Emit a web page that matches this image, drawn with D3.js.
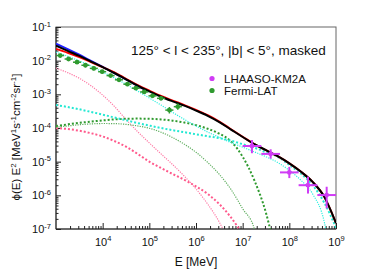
<!DOCTYPE html>
<html>
<head>
<meta charset="utf-8">
<script src="https://cdn.jsdelivr.net/npm/d3@7"></script>
<style>
	body { margin: 0; background: #fff; }
	svg { display: block; font-family: 'Liberation Sans', Arial, sans-serif; }
</style>
</head>
<body>
<div id="chart"></div>
<script>
// model curves, sampled on a common energy grid [MeV]
var energyGrid = [1e3, 1.78e3, 3.16e3, 5.62e3, 1e4, 1.78e4, 3.16e4, 5.62e4, 1e5, 1.78e5, 3.16e5, 5.62e5,
	1e6, 1.78e6, 3.16e6, 5.62e6, 1e7, 1.78e7, 3.16e7, 5.62e7, 1e8, 1.78e8, 3.16e8, 5.62e8, 1e9];

var totalModel = [0.028, 0.0195, 0.0138, 0.0094, 0.0064, 0.0043, 0.0028, 0.0018, 0.00122, 8.5e-4, 6.2e-4, 4.6e-4,
	3.3e-4, 2.3e-4, 1.5e-4, 9e-5, 5.4e-5, 3.3e-5, 2.2e-5, 1.45e-5, 8.9e-6, 5e-6, 2.5e-6, 9e-7, 1.5e-7];
var redModel = [0.0225, 0.0172, 0.0128, 0.0091, 0.0064, 0.0045, 0.0029, 0.00188, 0.00128, 8.9e-4, 6.5e-4, 4.8e-4,
	3.45e-4, 2.4e-4, 1.55e-4, 9.2e-5, 5.5e-5, 3.3e-5, 2.2e-5, 1.45e-5, 8.9e-6, 5e-6, 2.5e-6, 9e-7, 1.5e-7];
var blueModel = [0.032, 0.022, 0.015, 0.0098, 0.0065, 0.0043, 0.0028, 0.0018, 0.00122];
var cyanThin = [0.018, 0.0135, 0.0098, 0.0069, 0.0046, 0.0031, 0.002, 0.00125, 7.8e-4, 4.8e-4, 2.9e-4, 1.8e-4,
	1.15e-4, 7.6e-5, 5.3e-5, 3.7e-5, 2.7e-5, 1.95e-5, 1.4e-5, 9.5e-6, 5.5e-6, 2.8e-6, 1.1e-6, 1.6e-7, 1e-9];
var cyanThick = [4.8e-4, 4.2e-4, 3.6e-4, 3.0e-4, 2.5e-4, 2.05e-4, 1.7e-4, 1.4e-4, 1.18e-4, 1.0e-4, 8.6e-5, 7.5e-5,
	6.5e-5, 5.7e-5, 5.0e-5, 4.2e-5, 3.3e-5, 2.6e-5, 1.9e-5, 1.4e-5, 8e-6, 4.4e-6, 2.0e-6, 6e-7, 1.1e-7];
var greenThick = [1.15e-4, 1.28e-4, 1.42e-4, 1.55e-4, 1.68e-4, 1.8e-4, 1.88e-4, 1.9e-4, 1.88e-4, 1.8e-4, 1.65e-4, 1.45e-4,
	1.22e-4, 9.5e-5, 6.8e-5, 4.0e-5, 1.4e-5, 2.8e-6, 3e-7, 1e-8];
var greenThin = [1.05e-4, 1.15e-4, 1.25e-4, 1.32e-4, 1.36e-4, 1.35e-4, 1.28e-4, 1.15e-4, 9.8e-5, 7.5e-5, 5.2e-5, 3.3e-5,
	1.9e-5, 9.5e-6, 4.2e-6, 1.5e-6, 4e-7, 1e-7, 1e-9];
var pinkThin = [6.0e-3, 4.4e-3, 3.0e-3, 1.8e-3, 9.5e-4, 4.4e-4, 1.8e-4, 7.8e-5, 3.6e-5, 1.7e-5, 8.2e-6, 3.7e-6,
	1.55e-6, 5.5e-7, 1.6e-7, 3e-8];
var pinkThick = [1.0e-4, 9.3e-5, 8.3e-5, 7.0e-5, 5.6e-5, 4.1e-5, 2.8e-5, 1.7e-5, 1.0e-5, 6.5e-6, 4.3e-6, 2.9e-6,
	1.85e-6, 1.1e-6, 5.5e-7, 2.2e-7, 7e-8];

// Fermi-LAT points
var fermiE = [1230, 1860, 2820, 4270, 6460, 9770, 14800, 22400, 33900, 51300, 77600, 117000, 178000, 269000, 407000];
var fermiFlux = [0.0142, 0.0112, 0.009, 0.0073, 0.0059, 0.0047, 0.0036, 0.0027, 0.002, 0.00152, 0.00118, 9.0e-4, 7.6e-4, 3.4e-4, 4.3e-4];
var fermiLo = [0.0125, 0.0099, 0.0079, 0.0064, 0.0052, 0.0041, 0.0032, 0.0024, 0.00176, 0.00134, 0.00104, 7.9e-4, 6.7e-4, 2.7e-4, 3.5e-4];
var fermiHi = [0.016, 0.0127, 0.0102, 0.0082, 0.0067, 0.0053, 0.0041, 0.0031, 0.00226, 0.00172, 0.00133, 1.02e-3, 8.6e-4, 4.2e-4, 5.3e-4];
var fermiBinLo = [1010, 1530, 2310, 3500, 5300, 8000, 12100, 18300, 27800, 42000, 63600, 95900, 146000, 220000, 334000];
var fermiBinHi = [1500, 2270, 3440, 5210, 7880, 11900, 18000, 27300, 41400, 62600, 94700, 143000, 217000, 328000, 497000];

// LHAASO-KM2A points
var lhaasoE = [1.58e7, 3.98e7, 1e8, 2.51e8, 6.31e8];
var lhaasoFlux = [2.92e-5, 1.7e-5, 4.8e-6, 2.0e-6, 1.02e-6];
var lhaasoLo = [1.78e-5, 1.23e-5, 3.25e-6, 1.13e-6, 4.1e-7];
var lhaasoHi = [4.4e-5, 2.33e-5, 7.0e-6, 3.6e-6, 1.8e-6];
var lhaasoBinLo = [1e7, 2.51e7, 6.31e7, 1.58e8, 3.98e8];
var lhaasoBinHi = [2.51e7, 6.31e7, 1.58e8, 3.98e8, 1e9];

var xTickValues = [1e4, 1e5, 1e6, 1e7, 1e8, 1e9];
var xTickExp = ['4', '5', '6', '7', '8', '9'];
var yTickValues = [1e-1, 1e-2, 1e-3, 1e-4, 1e-5, 1e-6, 1e-7];
var yTickExp = ['-1', '-2', '-3', '-4', '-5', '-6', '-7'];

var regionLabel = '125\u00b0 < l < 235\u00b0, |b| < 5\u00b0, masked';
var legendNames = ['LHAASO-KM2A', 'Fermi-LAT'];

var options = {
	width: 374,
	height: 270,
	margin: {top: 27, right: 38, bottom: 41, left: 56}
};

var svg = d3.select('#chart')
	.append('svg')
	.attr('width', options.width)
	.attr('height', options.height);

var width = options.width - options.margin.left - options.margin.right;
var height = options.height - options.margin.top - options.margin.bottom;

var g = svg.append('g')
	.attr('transform', 'translate(' + options.margin.left + ',' + options.margin.top + ')');

var x = d3.scaleLog().domain([1e3, 1e9]).range([0, width]);
var y = d3.scaleLog().domain([1e-7, 1e-1]).range([height, 0]);

g.append('clipPath')
	.attr('id', 'plotClip')
	.append('rect')
	.attr('width', width)
	.attr('height', height);

g.append('rect')
	.attr('width', width)
	.attr('height', height)
	.attr('fill', 'none')
	.attr('stroke', '#666')
	.attr('stroke-width', 1);

// axes, ticks drawn inside the frame
function isDecade(v) {
	var l = Math.log10(v);
	return Math.abs(l - Math.round(l)) < 1e-6;
}
var minorX = x.ticks().filter(function(v) { return !isDecade(v); });
var minorY = y.ticks().filter(function(v) { return !isDecade(v); });

g.append('g')
	.attr('transform', 'translate(0,' + height + ')')
	.call(d3.axisBottom(x).tickValues(minorX).tickSize(-3).tickFormat(''))
	.call(function(s) { s.select('.domain').remove(); });

var xAxisG = g.append('g')
	.attr('transform', 'translate(0,' + height + ')')
	.call(d3.axisBottom(x).tickValues(xTickValues).tickSize(-6).tickPadding(9).tickFormat(''));
xAxisG.select('.domain').remove();

g.append('g')
	.call(d3.axisLeft(y).tickValues(minorY).tickSize(-2.5).tickFormat(''))
	.call(function(s) { s.select('.domain').remove(); });

var yAxisG = g.append('g')
	.call(d3.axisLeft(y).tickValues(yTickValues).tickSize(-5).tickPadding(5).tickFormat(''));
yAxisG.select('.domain').remove();

g.selectAll('.tick line').attr('stroke', '#222');

function powerLabel(sel, exps) {
	sel.selectAll('.tick text').each(function(d, i) {
		var t = d3.select(this)
			.attr('fill', '#111')
			.style('font-size', '11px')
			.text('10');
		t.append('tspan')
			.attr('dy', '-4.5')
			.style('font-size', '7.5px')
			.text(exps[i]);
	});
}
powerLabel(xAxisG, xTickExp);
powerLabel(yAxisG, yTickExp);

g.append('line')
	.attr('x1', 0).attr('x2', width)
	.attr('y1', height).attr('y2', height)
	.attr('stroke', '#222');
g.append('line')
	.attr('x1', 0).attr('x2', 0)
	.attr('y1', 0).attr('y2', height)
	.attr('stroke', '#222');

// axis titles
svg.append('text')
	.attr('x', options.margin.left + width / 2)
	.attr('y', 265.5)
	.attr('text-anchor', 'middle')
	.style('font-size', '12px')
	.attr('fill', '#111')
	.text('E [MeV]');

var yTitle = svg.append('text')
	.attr('transform', 'translate(20,137) rotate(-90)')
	.attr('text-anchor', 'middle')
	.style('font-size', '11.5px')
	.attr('fill', '#111');
var yTitleParts = [['\u03d5(E) E', 0], ['2', 1], [' [MeV', 0], ['1', 1], ['s', 0], ['-1', 1], ['cm', 0], ['-2', 1], ['sr', 0], ['-1', 1], [']', 0]];
var wasSup = false;
yTitleParts.forEach(function(p) {
	var sup = p[1] === 1;
	yTitle.append('tspan')
		.attr('dy', sup === wasSup ? 0 : (sup ? -4.5 : 4.5))
		.style('font-size', sup ? '8px' : '11.5px')
		.text(p[0]);
	wasSup = sup;
});

// model curves
var plot = g.append('g').attr('clip-path', 'url(#plotClip)');

var line = d3.line()
	.curve(d3.curveMonotoneX)
	.x(function(d) { return x(d[0]); })
	.y(function(d) { return y(d[1]); });

var curves = [
	{values: pinkThin, color: '#ff7aa6', width: 1.2, dash: '1.2,1.2'},
	{values: pinkThick, color: '#ff5a8c', width: 2, dash: '2,2'},
	{values: greenThin, color: '#5fae5f', width: 1.2, dash: '1.2,1.2'},
	{values: greenThick, color: '#2f9a2f', width: 2, dash: '2,2'},
	{values: cyanThick, color: '#22e8d2', width: 2, dash: '2,2'},
	{values: cyanThin, color: '#2ef0e0', width: 1.2, dash: '1.2,1.2'},
	{values: blueModel, color: '#1f1fff', width: 2, dash: null},
	{values: redModel, color: '#ff0000', width: 2, dash: null},
	{values: totalModel, color: '#000', width: 2, dash: null}
];

curves.forEach(function(c) {
	var pts = c.values.map(function(v, i) { return [energyGrid[i], v]; });
	plot.append('path')
		.datum(pts)
		.attr('fill', 'none')
		.attr('stroke', c.color)
		.attr('stroke-width', c.width)
		.attr('stroke-dasharray', c.dash)
		.attr('d', line);
});

// data points
function drawPoints(E, flux, lo, hi, binLo, binHi, color, r, w) {
	var pg = plot.append('g');
	E.forEach(function(e, i) {
		pg.append('line')
			.attr('x1', x(binLo[i])).attr('x2', x(binHi[i]))
			.attr('y1', y(flux[i])).attr('y2', y(flux[i]))
			.attr('stroke', color).attr('stroke-width', w);
		pg.append('line')
			.attr('x1', x(e)).attr('x2', x(e))
			.attr('y1', y(lo[i])).attr('y2', y(hi[i]))
			.attr('stroke', color).attr('stroke-width', w);
		pg.append('circle')
			.attr('cx', x(e)).attr('cy', y(flux[i]))
			.attr('r', r)
			.attr('fill', color);
	});
}
drawPoints(fermiE, fermiFlux, fermiLo, fermiHi, fermiBinLo, fermiBinHi, '#2f9a2f', 2.4, 1.5);
drawPoints(lhaasoE, lhaasoFlux, lhaasoLo, lhaasoHi, lhaasoBinLo, lhaasoBinHi, '#d03cf5', 2.4, 2);

// labels and legend
svg.append('text')
	.attr('x', 131)
	.attr('y', 54.5)
	.style('font-size', '13.5px')
	.attr('fill', '#111')
	.text(regionLabel);

var legendColors = ['#d03cf5', '#2f9a2f'];
var legend = svg.selectAll('.key')
	.data(legendNames).enter()
	.append('g')
	.attr('transform', function(d, i) { return 'translate(212,' + (78.5 + i * 12) + ')'; });
legend.append('circle')
	.attr('r', 2.6)
	.attr('fill', function(d, i) { return legendColors[i]; });
legend.append('text')
	.attr('x', 12)
	.attr('dy', '0.36em')
	.style('font-size', '11.5px')
	.attr('fill', '#111')
	.text(function(d) { return d; });
</script>
</body>
</html>
